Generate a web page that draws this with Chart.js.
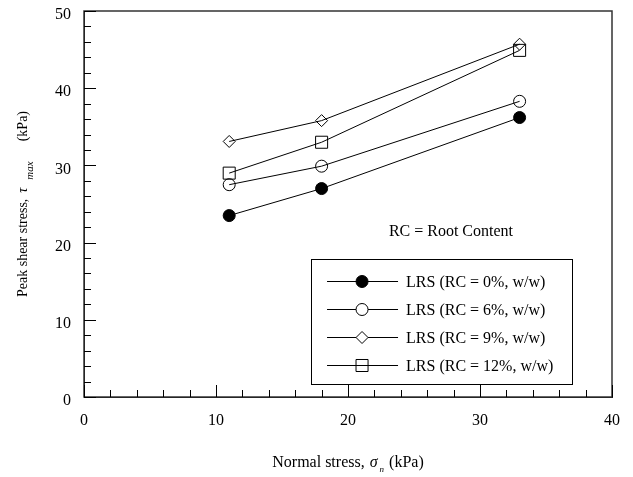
<!DOCTYPE html>
<html>
<head>
<meta charset="utf-8">
<script src="https://cdn.jsdelivr.net/npm/chart.js@4"></script>
<style>
  body { margin: 0; background: #fff; }
</style>
</head>
<body>
<canvas id="shear-chart" width="633" height="477"></canvas>
<script>
    "use strict";

    // Data
    var normalStress = [11, 18, 33];
    var rc0 = [23.5, 27.0, 36.2];
    var rc6 = [27.5, 29.9, 38.3];
    var rc9 = [33.1, 35.8, 45.7];
    var rc12 = [29.0, 33.0, 44.9];
    var seriesLabels = ["LRS (RC = 0%, w/w)", "LRS (RC = 6%, w/w)", "LRS (RC = 9%, w/w)", "LRS (RC = 12%, w/w)"];
    var seriesStyles = ["circle", "circle", "rectRot", "rect"];
    var seriesFills = ["#000", "rgba(0,0,0,0)", "rgba(0,0,0,0)", "rgba(0,0,0,0)"];
    var seriesRadius = [6, 6, 6, 8.5];
    var xRange = [0, 40];
    var yRange = [0, 50];

    var serif = "'Liberation Serif', 'Times New Roman', serif";

    function toPoints(ys) {
        return ys.map(function (y, i) { return {x: normalStress[i], y: y}; });
    }

    var datasets = [rc0, rc6, rc9, rc12].map(function (ys, i) {
        return {
            label: seriesLabels[i],
            data: toPoints(ys),
            showLine: true,
            borderColor: "#000",
            borderWidth: 1,
            pointStyle: seriesStyles[i],
            pointRadius: seriesRadius[i],
            pointHoverRadius: seriesRadius[i],
            pointBackgroundColor: seriesFills[i],
            pointBorderColor: "#000",
            pointBorderWidth: 1
        };
    });

    // Draw a run of text pieces (normal / italic / subscript / gaps) centred on 0
    function drawRich(ctx, parts) {
        var total = 0;
        parts.forEach(function (p) {
            if (p.gap) { p.w = p.gap; }
            else { ctx.font = p.font; p.w = ctx.measureText(p.t).width; }
            total += p.w;
        });
        var x = -total / 2;
        ctx.textBaseline = "alphabetic";
        ctx.textAlign = "left";
        parts.forEach(function (p) {
            if (!p.gap) {
                ctx.font = p.font;
                ctx.fillText(p.t, x, p.dy || 0);
            }
            x += p.w;
        });
    }

    function noPadding(scale) {
        scale.paddingTop = 0;
        scale.paddingBottom = 0;
        scale.paddingLeft = 0;
        scale.paddingRight = 0;
    }

    // Frame, inward ticks, titles, note and the boxed legend
    var decorations = {
        id: "decorations",
        afterDraw: function (chart) {
            var ctx = chart.ctx;
            var area = chart.chartArea;
            var xs = chart.scales.x;
            var ys = chart.scales.y;
            ctx.save();

            // frame
            ctx.strokeStyle = "#333";
            ctx.lineWidth = 1.5;
            ctx.strokeRect(area.left, area.top, area.right - area.left, area.bottom - area.top);

            // inward ticks every 2, longer every 10
            ctx.strokeStyle = "#000";
            ctx.lineWidth = 1;
            ctx.beginPath();
            for (var v = xRange[0]; v <= xRange[1]; v += 2) {
                var px = Math.round(xs.getPixelForValue(v)) + 0.5;
                var len = v % 10 === 0 ? 12 : 7;
                ctx.moveTo(px, area.bottom);
                ctx.lineTo(px, area.bottom - len);
            }
            for (var w = yRange[0]; w <= yRange[1]; w += 2) {
                var py = Math.round(ys.getPixelForValue(w)) + 0.5;
                var l2 = w % 10 === 0 ? 12 : 7;
                ctx.moveTo(area.left, py);
                ctx.lineTo(area.left + l2, py);
            }
            ctx.stroke();

            ctx.fillStyle = "#000";

            // x axis title
            ctx.save();
            ctx.translate((area.left + area.right) / 2, 467);
            drawRich(ctx, [
                {t: "Normal stress,", font: "16px " + serif},
                {gap: 5},
                {t: "\u03c3", font: "italic 16px " + serif},
                {gap: 2},
                {t: "n", font: "italic 9px " + serif, dy: 5},
                {gap: 5},
                {t: "(kPa)", font: "16px " + serif}
            ]);
            ctx.restore();

            // y axis title
            ctx.save();
            ctx.translate(27, (area.top + area.bottom) / 2);
            ctx.rotate(-Math.PI / 2);
            drawRich(ctx, [
                {t: "Peak shear stress,", font: "14px " + serif},
                {gap: 6},
                {t: "\u03c4", font: "italic 14px " + serif},
                {gap: 8},
                {t: "max", font: "italic 11px " + serif, dy: 6},
                {gap: 20},
                {t: "(kPa)", font: "14px " + serif}
            ]);
            ctx.restore();

            // note
            ctx.font = "16px " + serif;
            ctx.textAlign = "center";
            ctx.textBaseline = "middle";
            ctx.fillText("RC = Root Content", xs.getPixelForValue(27.8), ys.getPixelForValue(21.4));

            // legend box
            var bx = xs.getPixelForValue(17.2);
            var bx2 = xs.getPixelForValue(37.0);
            var by = ys.getPixelForValue(17.9);
            var by2 = ys.getPixelForValue(1.7);
            ctx.fillStyle = "#fff";
            ctx.fillRect(bx, by, bx2 - bx, by2 - by);
            ctx.strokeStyle = "#000";
            ctx.lineWidth = 1;
            ctx.strokeRect(Math.round(bx) + 0.5, Math.round(by) + 0.5, Math.round(bx2 - bx), Math.round(by2 - by));

            chart.data.datasets.forEach(function (ds, i) {
                var rowY = Math.round(by + 22 + i * 28) + 0.5;
                ctx.strokeStyle = "#000";
                ctx.lineWidth = 1;
                ctx.beginPath();
                ctx.moveTo(bx + 16, rowY);
                ctx.lineTo(bx + 87, rowY);
                ctx.stroke();
                ctx.fillStyle = ds.pointStyle === "rect" ? "rgba(0,0,0,0)" : (i === 0 ? "#000" : "#fff");
                Chart.helpers.drawPoint(ctx, {
                    pointStyle: ds.pointStyle,
                    radius: ds.pointRadius,
                    borderWidth: 1,
                    rotation: 0
                }, bx + 51, rowY);
                ctx.fillStyle = "#000";
                ctx.font = "16px " + serif;
                ctx.textAlign = "left";
                ctx.textBaseline = "middle";
                ctx.fillText(ds.label, bx + 95, rowY + 1);
            });

            ctx.restore();
        }
    };

    var ctx1 = document.getElementById("shear-chart").getContext("2d");
    var myChart1 = new Chart(ctx1, {
        type: "scatter",
        data: {datasets: datasets},
        options: {
            responsive: false,
            animation: false,
            events: [],
            layout: {
                padding: {left: 34, right: 21, top: 11, bottom: 40}
            },
            plugins: {
                legend: {display: false},
                tooltip: {enabled: false}
            },
            scales: {
                x: {
                    type: "linear",
                    min: xRange[0],
                    max: xRange[1],
                    grid: {display: false},
                    border: {display: true, color: "#000", width: 1},
                    ticks: {
                        stepSize: 10,
                        color: "#000",
                        padding: 6,
                        font: {family: serif, size: 16}
                    },
                    afterFit: function (scale) { scale.height = 40; noPadding(scale); }
                },
                y: {
                    type: "linear",
                    min: yRange[0],
                    max: yRange[1],
                    grid: {display: false},
                    border: {display: true, color: "#000", width: 1},
                    ticks: {
                        stepSize: 10,
                        color: "#000",
                        padding: 5,
                        labelOffset: 4,
                        font: {family: serif, size: 16}
                    },
                    afterFit: function (scale) { scale.width = 50; noPadding(scale); }
                }
            }
        },
        plugins: [decorations]
    });
</script>
</body>
</html>
